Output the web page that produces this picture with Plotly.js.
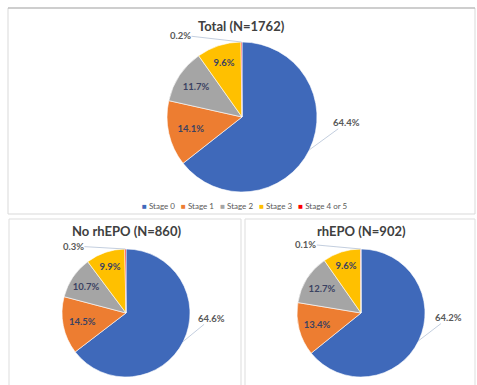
<!DOCTYPE html>
<html>
<head>
<meta charset="utf-8">
<script src="https://cdn.plot.ly/plotly-3.0.1.min.js"></script>
<style>html,body{margin:0;padding:0;background:#fff;}</style>
</head>
<body>
<div id="chart" style="width:477px;height:385px;"></div>
<script>
// Share of patients per stage (%)
const stages = ['Stage 0', 'Stage 1', 'Stage 2', 'Stage 3', 'Stage 4 or 5'];
const totalPct = [64.4, 14.1, 11.7, 9.6, 0.2];
const noEpoPct = [64.6, 14.5, 10.7, 9.9, 0.3];
const epoPct = [64.2, 13.4, 12.7, 9.6, 0.1];
const panelTitles = ['Total (N=1762)', 'No rhEPO (N=860)', 'rhEPO (N=902)'];

const stageColors = ['#3F69BA', '#ED7D31', '#A5A5A5', '#FFC000', '#FF0000'];
const W = 477, H = 385;
const FONT = 'Lato, "Open Sans", sans-serif';

// Pixel geometry of each panel: pie centre, radius, title line, outside-label offsets
const panels = [
  {vals: totalPct, cx: 242, cy: 117, r: 75, ty: 26, off: [[37, -27], [-61, -7]]},
  {vals: noEpoPct, cx: 126, cy: 313, r: 64, ty: 231, off: [[28, -23], [-52, -3]]},
  {vals: epoPct,   cx: 361, cy: 313, r: 64, ty: 231, off: [[30, -23], [-55, -5]]}
];

const px = x => x / W;
const py = y => 1 - y / H;

const traces = [];
const annotations = [];

panels.forEach((p, k) => {
  traces.push({
    type: 'pie',
    labels: stages,
    values: p.vals,
    sort: false,
    direction: 'clockwise',
    rotation: 0,
    domain: {x: [px(p.cx - p.r), px(p.cx + p.r)], y: [py(p.cy + p.r), py(p.cy - p.r)]},
    marker: {colors: stageColors, line: {color: '#ffffff', width: 0.6}},
    texttemplate: '%{value:.1f}%',
    textposition: ['none', 'inside', 'inside', 'inside', 'none'],
    insidetextorientation: 'horizontal',
    insidetextfont: {family: FONT, size: 9.5, color: '#3B4262', weight: 'bold'},
    hoverinfo: 'label+value',
    showlegend: false
  });

  // panel title
  annotations.push({
    xref: 'paper', yref: 'paper', x: px(p.cx), y: py(p.ty),
    text: '<b>' + panelTitles[k] + '</b>', showarrow: false,
    xanchor: 'center', yanchor: 'middle', borderpad: 0,
    font: {family: FONT, size: 13, color: '#404040'}
  });

  // outside labels with leader lines for the largest and the smallest slice
  const sum = p.vals.reduce((a, b) => a + b, 0);
  const starts = [];
  let acc = 0;
  p.vals.forEach(v => { starts.push(acc); acc += v; });
  [0, p.vals.length - 1].forEach((i, j) => {
    const mid = (starts[i] + p.vals[i] / 2) / sum * 2 * Math.PI;
    const ex = p.cx + p.r * Math.sin(mid);
    const ey = p.cy - p.r * Math.cos(mid);
    annotations.push({
      xref: 'paper', yref: 'paper', x: px(ex), y: py(ey),
      text: '<b>' + p.vals[i].toFixed(1) + '%</b>',
      showarrow: true, arrowhead: 0, arrowwidth: 0.8, arrowcolor: '#B4C2D6',
      standoff: 0, startstandoff: 0, borderpad: 0,
      ax: p.off[j][0], ay: p.off[j][1],
      font: {family: FONT, size: 9.5, color: '#595959'}
    });
  });
});

// legend row under the top panel
const legendText = stages.map((s, i) =>
  '<span style="color:' + stageColors[i] + '">■</span>\u00a0' + s
).join('\u00a0\u00a0\u00a0');
annotations.push({
  xref: 'paper', yref: 'paper', x: px(245), y: py(206),
  text: legendText, showarrow: false, xanchor: 'center', yanchor: 'middle',
  font: {family: FONT, size: 8, color: '#595959'}
});

// panel frames
const frame = (x0, y0, x1, y1, c) => ({
  type: 'rect', xref: 'paper', yref: 'paper',
  x0: px(x0), x1: px(x1), y0: py(y1), y1: py(y0),
  line: {color: c, width: 1}, fillcolor: 'rgba(0,0,0,0)', layer: 'below'
});

const layout = {
  width: W, height: H,
  margin: {l: 0, r: 0, t: 0, b: 0},
  paper_bgcolor: '#ffffff',
  plot_bgcolor: '#ffffff',
  showlegend: false,
  annotations: annotations,
  shapes: [
    frame(8, 8, 475, 214, '#D9D9D9'),
    {type: 'line', xref: 'paper', yref: 'paper', x0: px(8), x1: px(475), y0: py(8), y1: py(8),
     line: {color: '#B0B0B0', width: 1}},
    frame(9, 219, 241, 390, '#DDDDDD'),
    frame(245, 219, 475, 390, '#DDDDDD')
  ]
};

Plotly.newPlot('chart', traces, layout, {displayModeBar: false, staticPlot: true});
</script>
</body>
</html>
